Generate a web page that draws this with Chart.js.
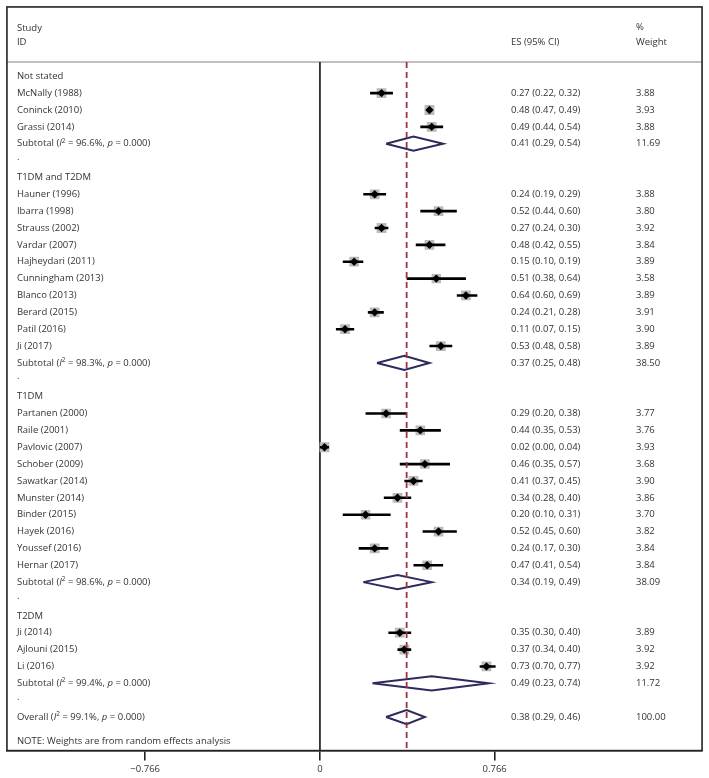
<!DOCTYPE html>
<html>
<head>
    <title>Forest plot</title>
    <style>
        body { margin: 0; background: #fff; }
        canvas { display: block; }
    </style>
    <script src="https://cdn.jsdelivr.net/npm/chart.js"></script>
</head>
<body>
    <canvas id="forestChart" width="709" height="778"></canvas>
    <script>
        // subgroups, in plot order
        const groupNames = ['Not stated', 'T1DM and T2DM', 'T1DM', 'T2DM'];

        // individual studies
        const studyNames = [
            'McNally (1988)', 'Coninck (2010)', 'Grassi (2014)',
            'Hauner (1996)', 'Ibarra (1998)', 'Strauss (2002)', 'Vardar (2007)', 'Hajheydari (2011)',
            'Cunningham (2013)', 'Blanco (2013)', 'Berard (2015)', 'Patil (2016)', 'Ji (2017)',
            'Partanen (2000)', 'Raile (2001)', 'Pavlovic (2007)', 'Schober (2009)', 'Sawatkar (2014)',
            'Munster (2014)', 'Binder (2015)', 'Hayek (2016)', 'Youssef (2016)', 'Hernar (2017)',
            'Ji (2014)', 'Ajlouni (2015)', 'Li (2016)'
        ];
        const studyGroup = [0, 0, 0, 1, 1, 1, 1, 1, 1, 1, 1, 1, 1, 2, 2, 2, 2, 2, 2, 2, 2, 2, 2, 3, 3, 3];
        const studyES = [0.27, 0.48, 0.49, 0.24, 0.52, 0.27, 0.48, 0.15, 0.51, 0.64, 0.24, 0.11, 0.53,
                         0.29, 0.44, 0.02, 0.46, 0.41, 0.34, 0.20, 0.52, 0.24, 0.47, 0.35, 0.37, 0.73];
        const studyLow = [0.22, 0.47, 0.44, 0.19, 0.44, 0.24, 0.42, 0.10, 0.38, 0.60, 0.21, 0.07, 0.48,
                          0.20, 0.35, 0.00, 0.35, 0.37, 0.28, 0.10, 0.45, 0.17, 0.41, 0.30, 0.34, 0.70];
        const studyHigh = [0.32, 0.49, 0.54, 0.29, 0.60, 0.30, 0.55, 0.19, 0.64, 0.69, 0.28, 0.15, 0.58,
                           0.38, 0.53, 0.04, 0.57, 0.45, 0.40, 0.31, 0.60, 0.30, 0.54, 0.40, 0.40, 0.77];
        const studyWeight = [3.88, 3.93, 3.88, 3.88, 3.80, 3.92, 3.84, 3.89, 3.58, 3.89, 3.91, 3.90, 3.89,
                             3.77, 3.76, 3.93, 3.68, 3.90, 3.86, 3.70, 3.82, 3.84, 3.84, 3.89, 3.92, 3.92];

        // subtotals per group
        const subES = [0.41, 0.37, 0.34, 0.49];
        const subLow = [0.29, 0.25, 0.19, 0.23];
        const subHigh = [0.54, 0.48, 0.49, 0.74];
        const subWeight = [11.69, 38.50, 38.09, 11.72];
        const subI2 = ['96.6', '98.3', '98.6', '99.4'];

        // overall pooled estimate
        const overallES = 0.38, overallLow = 0.29, overallHigh = 0.46, overallWeight = 100.00;
        const overallI2 = '99.1';

        const axisTicks = [-0.766, 0, 0.766];

        const FONT = '"Open Sans", sans-serif';
        const FONT_SIZE = 9.5;
        const TEXT_COLOR = '#333';

        // lay out the rows: group title, studies, subtotal, spacer dot
        const rows = [];
        groupNames.forEach(function(g, gi) {
            rows.push({ kind: 'group', label: g });
            studyNames.forEach(function(name, i) {
                if (studyGroup[i] !== gi) return;
                rows.push({ kind: 'study', label: name, es: studyES[i], low: studyLow[i], high: studyHigh[i], w: studyWeight[i] });
            });
            rows.push({ kind: 'sub', label: 'Subtotal', i2: subI2[gi], es: subES[gi], low: subLow[gi], high: subHigh[gi], w: subWeight[gi] });
            rows.push({ kind: 'dot' });
        });
        rows.push({ kind: 'sub', label: 'Overall', i2: overallI2, es: overallES, low: overallLow, high: overallHigh, w: overallWeight });

        const HEADER_RULE = -0.84;   // row units
        const Y_MIN = -4.11, Y_MAX = 39.99;
        const DIAMOND_H = 0.42;

        const ciData = [], boxData = [], markData = [], diamondData = [];
        rows.forEach(function(r, k) {
            if (r.kind === 'study') {
                ciData.push({ x: r.low, y: k }, { x: r.high, y: k }, { x: null, y: null });
                boxData.push({ x: r.es, y: k, w: r.w });
                markData.push({ x: r.es, y: k });
            } else if (r.kind === 'sub') {
                diamondData.push({ x: r.low, y: k }, { x: r.es, y: k - DIAMOND_H }, { x: r.high, y: k },
                                 { x: r.es, y: k + DIAMOND_H }, { x: r.low, y: k }, { x: null, y: null });
            }
        });

        function fmt(v) { return v.toFixed(2); }

        function drawRich(ctx, parts, x, y) {
            parts.forEach(function(p) {
                const t = Array.isArray(p) ? p[0] : p;
                const style = Array.isArray(p) ? p[1] : '';
                if (style === 'sup') {
                    ctx.font = '6.5px ' + FONT;
                    ctx.fillText(t, x, y - 3);
                } else {
                    ctx.font = (style === 'i' ? 'italic ' : '') + FONT_SIZE + 'px ' + FONT;
                    ctx.fillText(t, x, y);
                }
                x += ctx.measureText(t).width;
            });
        }

        // table text, header rule and frame
        const tablePlugin = {
            id: 'forestTable',
            beforeDatasetsDraw(chart) {
                const ctx = chart.ctx, a = chart.chartArea, ys = chart.scales.y;
                const colLabel = a.left + 10, colES = 511, colW = 636;
                const base = FONT_SIZE + 'px ' + FONT;
                ctx.save();
                ctx.strokeStyle = '#c0c0c0';
                ctx.lineWidth = 2;
                const ry = ys.getPixelForValue(HEADER_RULE);
                ctx.beginPath();
                ctx.moveTo(a.left, ry);
                ctx.lineTo(a.right, ry);
                ctx.stroke();

                ctx.fillStyle = TEXT_COLOR;
                ctx.textBaseline = 'middle';
                ctx.font = base;
                ctx.fillText('Study', colLabel, ys.getPixelForValue(-2.82));
                ctx.fillText('ID', colLabel, ys.getPixelForValue(-2.02));
                ctx.fillText('ES (95% CI)', colES, ys.getPixelForValue(-2.02));
                ctx.fillText('%', colW, ys.getPixelForValue(-2.88));
                ctx.fillText('Weight', colW, ys.getPixelForValue(-2.02));

                rows.forEach(function(r, k) {
                    const y = ys.getPixelForValue(k);
                    ctx.font = base;
                    if (r.kind === 'group' || r.kind === 'study') {
                        ctx.fillText(r.label, colLabel, y);
                    } else if (r.kind === 'dot') {
                        ctx.fillText('.', colLabel, y - 3);
                    } else {
                        drawRich(ctx, [r.label + ' (', ['I', 'i'], ['2', 'sup'], ' = ' + r.i2 + '%, ', ['p', 'i'], ' = 0.000)'], colLabel, y);
                    }
                    if (r.es !== undefined) {
                        ctx.font = base;
                        ctx.fillText(fmt(r.es) + ' (' + fmt(r.low) + ', ' + fmt(r.high) + ')', colES, y);
                        ctx.fillText(fmt(r.w), colW, y);
                    }
                });
                ctx.font = base;
                ctx.fillText('NOTE: Weights are from random effects analysis', colLabel, ys.getPixelForValue(39.46));
                ctx.restore();
            },
            afterDraw(chart) {
                const ctx = chart.ctx, a = chart.chartArea;
                ctx.save();
                ctx.strokeStyle = '#222';
                ctx.lineWidth = 1.6;
                ctx.strokeRect(a.left, a.top, a.right - a.left, a.bottom - a.top);
                ctx.restore();
            }
        };

        const ctx = document.getElementById('forestChart').getContext('2d');
        new Chart(ctx, {
            type: 'scatter',
            data: {
                datasets: [
                    {   // pooled estimate reference line
                        data: [{ x: overallES, y: HEADER_RULE }, { x: overallES, y: Y_MAX }],
                        showLine: true, borderColor: '#9c3340', borderWidth: 1.8, borderDash: [6, 4],
                        pointRadius: 0, order: 0
                    },
                    {   // null line
                        data: [{ x: 0, y: HEADER_RULE }, { x: 0, y: Y_MAX }],
                        showLine: true, borderColor: '#111', borderWidth: 1.6, pointRadius: 0, order: 5
                    },
                    {   // weight boxes
                        data: boxData, pointStyle: 'rect', backgroundColor: '#bababa', borderWidth: 0,
                        pointRadius: function(c) { return c.raw ? 3.5 * Math.sqrt(c.raw.w) : 0; }, order: 4
                    },
                    {   // confidence intervals
                        data: ciData, showLine: true, spanGaps: false, borderColor: '#000', borderWidth: 2.6,
                        pointRadius: 0, order: 3
                    },
                    {   // point estimates
                        data: markData, pointStyle: 'rectRot', pointRadius: 4.2, backgroundColor: '#000',
                        borderWidth: 0, order: 2
                    },
                    {   // subtotal and overall diamonds
                        data: diamondData, showLine: true, spanGaps: false, borderColor: '#2d2b5e',
                        borderWidth: 2, borderJoinStyle: 'miter', pointRadius: 0, order: 1
                    }
                ]
            },
            options: {
                responsive: false,
                animation: false,
                events: [],
                layout: { padding: { left: 1, top: 1, right: 4, bottom: 0 } },
                plugins: { legend: { display: false }, tooltip: { enabled: false } },
                scales: {
                    x: {
                        type: 'linear', position: 'bottom', min: -1.372, max: 1.675,
                        afterBuildTicks: function(scale) {
                            scale.ticks = axisTicks.map(function(v) { return { value: v }; });
                        },
                        ticks: {
                            autoSkip: false, maxRotation: 0, padding: 3, color: TEXT_COLOR,
                            font: { family: FONT, size: 9.5 },
                            callback: function(v) { return v === 0 ? '0' : (v < 0 ? '\u2212' : '') + Math.abs(v).toFixed(3); }
                        },
                        grid: { drawOnChartArea: false, drawTicks: true, tickLength: 10, color: '#222', lineWidth: 1.6 },
                        border: { display: true, color: '#222', width: 1.6 }
                    },
                    y: { type: 'linear', reverse: true, min: Y_MIN, max: Y_MAX, display: false }
                }
            },
            plugins: [tablePlugin]
        });
    </script>
</body>
</html>
